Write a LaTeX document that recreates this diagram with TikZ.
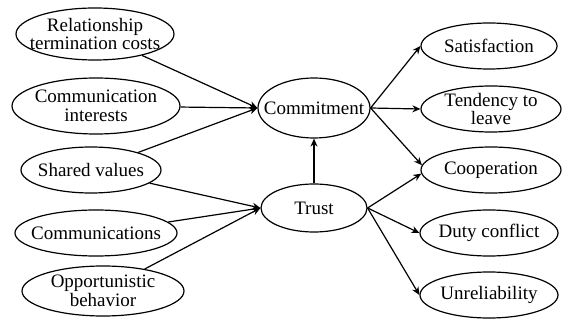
\documentclass[tikz,border=0pt]{standalone}
\usepackage{fontspec}
\setmainfont{Liberation Serif}
\usetikzlibrary{shapes,arrows.meta}

\begin{document}
\begin{tikzpicture}[x=1pt,y=-1pt,
    factor/.style={draw, ellipse, line width=1.2pt, inner xsep=-25pt, inner ysep=-8pt, align=center, font=\fontsize{19}{18.5}\selectfont},
    link/.style={->, line width=1.2pt, >={Stealth[length=8pt,width=7pt]}}]
                \useasboundingbox (0,0) rectangle (562,320);
                % --------
                % Antecedents
                % --------
                \node[factor, minimum width=158, minimum height=52] at (95, 34) (costs) {Relationship\\termination costs};
                \node[factor, minimum width=168, minimum height=56] at (96, 106) (interests) {Communication\\interests};
                \node[factor, minimum width=140, minimum height=46] at (91, 170) (values) {Shared values};
                \node[factor, minimum width=162, minimum height=46] at (96, 233) (comms) {Communications};
                \node[factor, minimum width=162, minimum height=50] at (103, 291) (opport) {Opportunistic\\behavior};

                % --------
                % Mediators
                % --------
                \node[factor, minimum width=112, minimum height=60] at (314, 108) (commit) {Commitment};
                \node[factor, minimum width=106, minimum height=48] at (314, 208) (trust) {Trust};

                % --------
                % Outcomes
                % --------
                \node[factor, minimum width=136, minimum height=46] at (489, 46) (satis) {Satisfaction};
                \node[factor, minimum width=140, minimum height=46] at (491, 109) (leave) {Tendency to\\leave};
                \node[factor, minimum width=140, minimum height=46] at (491, 170) (coop) {Cooperation};
                \node[factor, minimum width=138, minimum height=46] at (489, 233) (duty) {Duty conflict};
                \node[factor, minimum width=138, minimum height=46] at (489, 295) (unrel) {Unreliability};

                % Draw line
                \draw[link] (costs) -- (commit.west);
                \draw[link] (interests) -- (commit.west);
                \draw[link] (values) -- (commit.west);
                \draw[link] (values) -- (trust.west);
                \draw[link] (comms) -- (trust.west);
                \draw[link] (opport) -- (trust.west);
                \draw[link] (trust) -- (commit);

                \draw[link] (commit.east) -- (satis.west);
                \draw[link] (commit.east) -- (leave.west);
                \draw[link] (commit.east) -- (coop.176);
                \draw[link] (trust.east) -- (coop.183);
                \draw[link] (trust.east) -- (duty.west);
                \draw[link] (trust.east) -- (unrel.west);
            \end{tikzpicture}
\end{document}
